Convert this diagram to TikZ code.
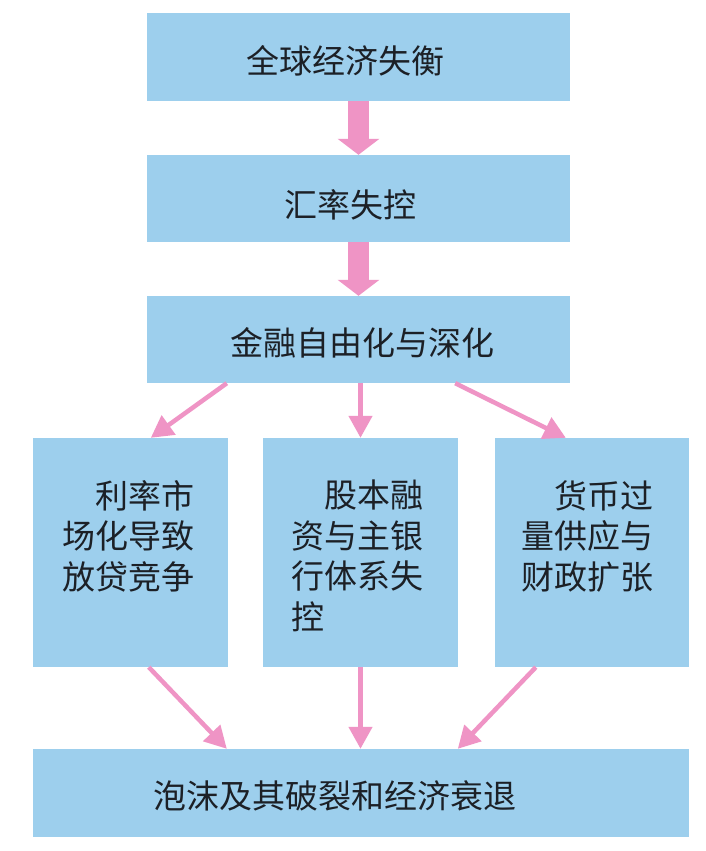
\documentclass[tikz,border=0pt]{standalone}
\usepackage{fontspec}
\newfontfamily\cjk{Noto Sans CJK SC}
\usetikzlibrary{arrows.meta}
\definecolor{boxblue}{RGB}{157,207,237}
\definecolor{arrowpink}{RGB}{239,148,197}
\definecolor{txt}{RGB}{28,32,38}
\tikzset{
  bluebox/.style={fill=boxblue, draw=none, inner sep=0pt, rectangle},
  onetext/.style={inner sep=0pt, text=txt, font=\cjk\fontsize{33}{40.5}\selectfont, text height=0.75em, text depth=0pt, anchor=center},
  multitext/.style={inner sep=0pt, text=txt, font=\cjk\fontsize{33}{40.5}\selectfont, align=left, anchor=north west},
  bigarrow/.style={draw=arrowpink, line width=21pt, -{Triangle[width=41pt,length=16pt]}},
  thinarrow/.style={draw=arrowpink, line width=4.5pt, -{Triangle[width=23pt,length=22pt]}}
}
\begin{document}
\begin{tikzpicture}[x=1pt,y=-1pt]
\useasboundingbox[fill=white] (0,0) rectangle (706,851);
% boxes
\node[bluebox, minimum width=423pt, minimum height=88pt] (b1) at (358.5,57) {};
\node[bluebox, minimum width=423pt, minimum height=87pt] (b2) at (358.5,198.5) {};
\node[bluebox, minimum width=423pt, minimum height=87pt] (b3) at (358.5,339.5) {};
\node[bluebox, minimum width=195pt, minimum height=229pt] (l1) at (130.5,552.5) {};
\node[bluebox, minimum width=195pt, minimum height=229pt] (l2) at (360.5,552.5) {};
\node[bluebox, minimum width=194pt, minimum height=229pt] (l3) at (592,552.5) {};
\node[bluebox, minimum width=656pt, minimum height=88pt] (b4) at (361,793) {};
% texts
\node[onetext] (t1) at (345.5,70) {全球经济失衡};
\node[onetext] (t2) at (350,214) {汇率失控};
\node[onetext] (t3) at (362.5,352) {金融自由化与深化};
\node[onetext] (t4) at (335,805) {泡沫及其破裂和经济衰退};
\node[multitext] (tl1) at (62,480) {\hspace*{1em}利率市\\场化导致\\放贷竞争};
\node[multitext] (tl2) at (291,480) {\hspace*{1em}股本融\\资与主银\\行体系失\\控};
\node[multitext] (tl3) at (521,480) {\hspace*{1em}货币过\\量供应与\\财政扩张};
% arrows
\draw[bigarrow] (b1.south) -- (b2.north);
\draw[bigarrow] (b2.south) -- (b3.north);
\draw[thinarrow] ([xshift=80pt]b3.south west) -- ([xshift=118pt]l1.north west);
\draw[thinarrow] (l2.north |- b3.south) -- (l2.north);
\draw[thinarrow] ([xshift=-115pt]b3.south east) -- ([xshift=71pt]l3.north west);
\draw[thinarrow] ([xshift=116pt]l1.south west) -- ([xshift=194pt]b4.north west);
\draw[thinarrow] (l2.south) -- (l2.south |- b4.north);
\draw[thinarrow] ([xshift=41pt]l3.south west) -- ([xshift=425pt]b4.north west);
\end{tikzpicture}
\end{document}
